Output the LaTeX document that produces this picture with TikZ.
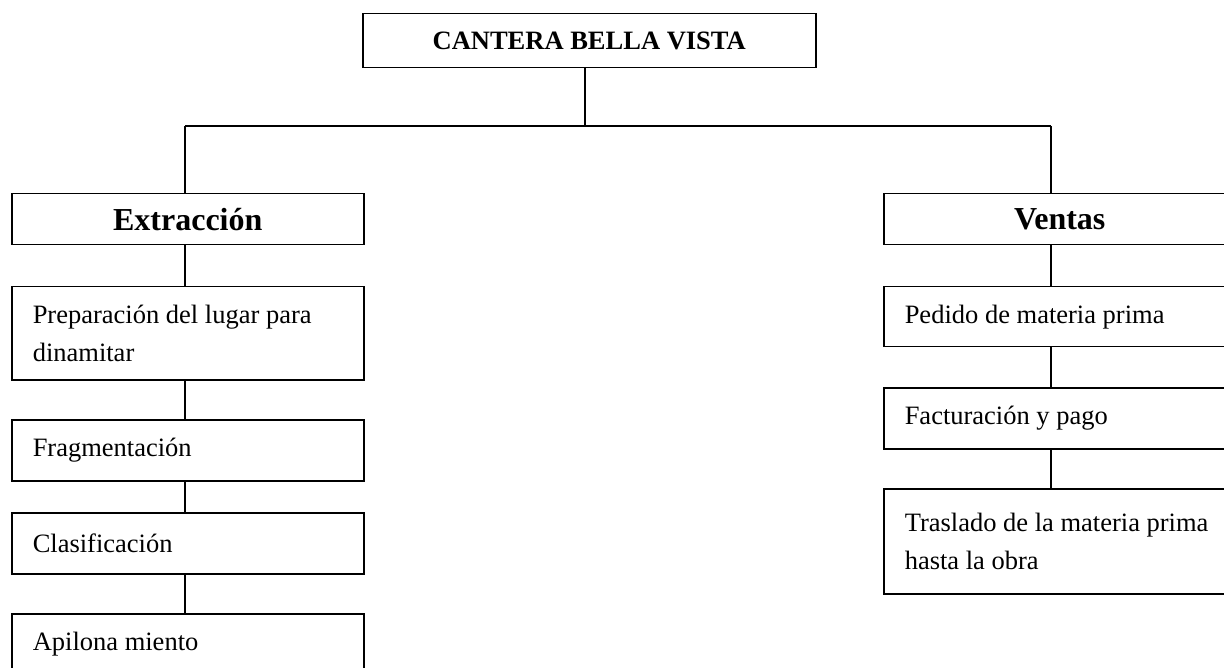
\documentclass[tikz,border=0pt]{standalone}
\usepackage{fontspec}
\setmainfont{Liberation Serif}
\begin{document}
\begin{tikzpicture}[x=1pt,y=-1pt,
  box/.style={draw=black, line width=1.5pt, anchor=north west, inner xsep=21pt, inner ysep=0pt,
    text width=310pt, align=flush left, minimum width=352pt, font=\fontsize{26.5}{38}\selectfont},
  headbox/.style={box, align=flush center, font=\fontsize{32}{38}\selectfont\bfseries},
  titlebox/.style={draw=black, line width=1.5pt, anchor=north west, inner sep=0pt,
    minimum width=453pt, minimum height=54pt, font=\fontsize{26.5}{32}\selectfont\bfseries},
  link/.style={draw=black, line width=1.3pt}]
\useasboundingbox (0,0) rectangle (1224,668);
\clip (0,0) rectangle (1224,668);
\fill[white] (0,0) rectangle (1224,668);

\node[titlebox] (top) at (362,13) {CANTERA BELLA VISTA};

\node[headbox, minimum height=51pt] (ext) at (11,193) {Extracción};
\node[box, minimum height=93pt] (prep) at (11,286) {Preparación del lugar para\\dinamitar};
\node[box, minimum height=61pt] (frag) at (11,419) {Fragmentación};
\node[box, minimum height=61pt] (clas) at (11,512) {Clasificación};
\node[box, minimum height=61pt] (apil) at (11,613) {Apilona miento};

\node[headbox, minimum height=51pt] (ven) at (883,193) {Ventas};
\node[box, minimum height=60pt] (ped) at (883,286) {Pedido de materia prima};
\node[box, minimum height=61pt] (fac) at (883,387) {Facturación y pago};
\node[box, minimum height=105pt] (tra) at (883,488) {Traslado de la materia prima\\hasta la obra\par\vspace{12pt}};

\coordinate (hub) at (585,126);
\coordinate (hubL) at (185,126);
\coordinate (hubR) at (1051,126);

\draw[link] (top.south -| hub) -- (hub);
\draw[link] (hubL) -- (hubR);
\draw[link] (hubL) -- (ext.north -| hubL);
\draw[link] (hubR) -- (ven.north -| hubR);
\draw[link] (ext.south -| hubL) -- (prep.north -| hubL);
\draw[link] (prep.south -| hubL) -- (frag.north -| hubL);
\draw[link] (frag.south -| hubL) -- (clas.north -| hubL);
\draw[link] (clas.south -| hubL) -- (apil.north -| hubL);
\draw[link] (ven.south -| hubR) -- (ped.north -| hubR);
\draw[link] (ped.south -| hubR) -- (fac.north -| hubR);
\draw[link] (fac.south -| hubR) -- (tra.north -| hubR);
\end{tikzpicture}
\end{document}
